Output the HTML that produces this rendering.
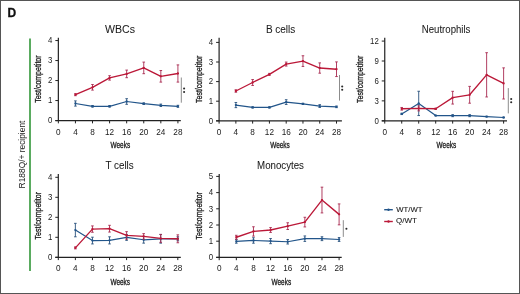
<!DOCTYPE html>
<html><head><meta charset="utf-8"><style>
html,body{margin:0;padding:0;background:#fff;}
#fig{position:relative;width:520px;height:294px;overflow:hidden;box-sizing:border-box;border:1px solid #555;background:#fff;}
svg{position:absolute;left:-1px;top:-1px;will-change:transform;font-family:"Liberation Sans", sans-serif;}
</style></head><body>
<div id="fig"><svg width="520" height="294" viewBox="0 0 520 294">
<text x="120.00" y="32.70" font-size="10" stroke="#1a1a1a" stroke-width="0.05" text-anchor="middle" textLength="30.0" lengthAdjust="spacingAndGlyphs" fill="#1a1a1a">WBCs</text>
<path d="M58.35 37.80V120.55M55.35 120.55H180.80" stroke="#222" stroke-width="1.2" fill="none"/>
<text x="52.35" y="123.25" font-size="8.9" text-anchor="end" textLength="4.36" lengthAdjust="spacingAndGlyphs" fill="#1a1a1a">0</text>
<text x="52.35" y="103.25" font-size="8.9" text-anchor="end" textLength="4.36" lengthAdjust="spacingAndGlyphs" fill="#1a1a1a">1</text>
<text x="52.35" y="83.25" font-size="8.9" text-anchor="end" textLength="4.36" lengthAdjust="spacingAndGlyphs" fill="#1a1a1a">2</text>
<text x="52.35" y="63.25" font-size="8.9" text-anchor="end" textLength="4.36" lengthAdjust="spacingAndGlyphs" fill="#1a1a1a">3</text>
<text x="52.35" y="43.25" font-size="8.9" text-anchor="end" textLength="4.36" lengthAdjust="spacingAndGlyphs" fill="#1a1a1a">4</text>
<text x="58.35" y="134.75" font-size="8.2" text-anchor="middle" fill="#1a1a1a">0</text>
<text x="75.43" y="134.75" font-size="8.2" text-anchor="middle" fill="#1a1a1a">4</text>
<text x="92.51" y="134.75" font-size="8.2" text-anchor="middle" fill="#1a1a1a">8</text>
<text x="109.59" y="134.75" font-size="8.2" text-anchor="middle" fill="#1a1a1a">12</text>
<text x="126.67" y="134.75" font-size="8.2" text-anchor="middle" fill="#1a1a1a">16</text>
<text x="143.75" y="134.75" font-size="8.2" text-anchor="middle" fill="#1a1a1a">20</text>
<text x="160.83" y="134.75" font-size="8.2" text-anchor="middle" fill="#1a1a1a">24</text>
<text x="177.91" y="134.75" font-size="8.2" text-anchor="middle" fill="#1a1a1a">28</text>
<path d="M55.35 120.55H58.35M55.35 100.55H58.35M55.35 80.55H58.35M55.35 60.55H58.35M55.35 40.55H58.35M58.35 120.55v2.8M75.43 120.55v2.8M92.51 120.55v2.8M109.59 120.55v2.8M126.67 120.55v2.8M143.75 120.55v2.8M160.83 120.55v2.8M177.91 120.55v2.8" stroke="#222" stroke-width="1" fill="none"/>
<text x="120.33" y="147.85" font-size="9.8" stroke="#1a1a1a" stroke-width="0.35" text-anchor="middle" textLength="19.6" lengthAdjust="spacingAndGlyphs" fill="#1a1a1a">Weeks</text>
<text transform="translate(40.70 79.17) rotate(-90)" font-size="8.7" stroke="#1a1a1a" stroke-width="0.3" text-anchor="middle" textLength="47.4" lengthAdjust="spacingAndGlyphs" fill="#1a1a1a">Test/competitor</text>
<path d="M75.43 100.90V106.10M74.13 100.90h2.6M74.13 106.10h2.6M92.51 105.50V107.10M91.21 105.50h2.6M91.21 107.10h2.6M109.59 105.50V107.10M108.29 105.50h2.6M108.29 107.10h2.6M126.67 98.70V104.30M125.37 98.70h2.6M125.37 104.30h2.6M143.75 102.90V104.50M142.45 102.90h2.6M142.45 104.50h2.6M160.83 104.10V106.50M159.53 104.10h2.6M159.53 106.50h2.6M177.91 105.30V107.30M176.61 105.30h2.6M176.61 107.30h2.6" stroke="#28507c" stroke-width="0.9" fill="none"/>
<path d="M75.43 103.50 L92.51 106.30 L109.59 106.30 L126.67 101.50 L143.75 103.70 L160.83 105.30 L177.91 106.30" stroke="#22558a" stroke-width="1.2" fill="none" stroke-linejoin="round"/>
<circle cx="75.43" cy="103.50" r="1.15" fill="#22558a"/>
<circle cx="92.51" cy="106.30" r="1.15" fill="#22558a"/>
<circle cx="109.59" cy="106.30" r="1.15" fill="#22558a"/>
<circle cx="126.67" cy="101.50" r="1.15" fill="#22558a"/>
<circle cx="143.75" cy="103.70" r="1.15" fill="#22558a"/>
<circle cx="160.83" cy="105.30" r="1.15" fill="#22558a"/>
<circle cx="177.91" cy="106.30" r="1.15" fill="#22558a"/>
<path d="M75.43 93.70V95.70M74.13 93.70h2.6M74.13 95.70h2.6M92.51 84.50V90.10M91.21 84.50h2.6M91.21 90.10h2.6M109.59 75.70V80.10M108.29 75.70h2.6M108.29 80.10h2.6M126.67 70.10V77.70M125.37 70.10h2.6M125.37 77.70h2.6M143.75 62.10V73.70M142.45 62.10h2.6M142.45 73.70h2.6M160.83 70.50V82.10M159.53 70.50h2.6M159.53 82.10h2.6M177.91 64.90V82.10M176.61 64.90h2.6M176.61 82.10h2.6" stroke="#a82a50" stroke-width="0.9" fill="none"/>
<path d="M75.43 94.70 L92.51 87.30 L109.59 77.90 L126.67 73.90 L143.75 67.90 L160.83 76.30 L177.91 73.50" stroke="#bb1838" stroke-width="1.35" fill="none" stroke-linejoin="round"/>
<circle cx="75.43" cy="94.70" r="1.15" fill="#bb1838"/>
<circle cx="92.51" cy="87.30" r="1.15" fill="#bb1838"/>
<circle cx="109.59" cy="77.90" r="1.15" fill="#bb1838"/>
<circle cx="126.67" cy="73.90" r="1.15" fill="#bb1838"/>
<circle cx="143.75" cy="67.90" r="1.15" fill="#bb1838"/>
<circle cx="160.83" cy="76.30" r="1.15" fill="#bb1838"/>
<circle cx="177.91" cy="73.50" r="1.15" fill="#bb1838"/>
<path d="M181.30 77.50V102.70" stroke="#8c8c8c" stroke-width="1"/>
<circle cx="184.10" cy="88.50" r="1.05" fill="#2a2a2a"/>
<circle cx="184.10" cy="92.00" r="1.05" fill="#2a2a2a"/>
<text x="280.60" y="32.70" font-size="10" stroke="#1a1a1a" stroke-width="0.05" text-anchor="middle" textLength="29.4" lengthAdjust="spacingAndGlyphs" fill="#1a1a1a">B cells</text>
<path d="M219.10 37.80V120.80M216.10 120.80H341.90" stroke="#222" stroke-width="1.2" fill="none"/>
<text x="213.10" y="123.50" font-size="8.9" text-anchor="end" textLength="4.36" lengthAdjust="spacingAndGlyphs" fill="#1a1a1a">0</text>
<text x="213.10" y="103.90" font-size="8.9" text-anchor="end" textLength="4.36" lengthAdjust="spacingAndGlyphs" fill="#1a1a1a">1</text>
<text x="213.10" y="84.30" font-size="8.9" text-anchor="end" textLength="4.36" lengthAdjust="spacingAndGlyphs" fill="#1a1a1a">2</text>
<text x="213.10" y="64.70" font-size="8.9" text-anchor="end" textLength="4.36" lengthAdjust="spacingAndGlyphs" fill="#1a1a1a">3</text>
<text x="213.10" y="45.10" font-size="8.9" text-anchor="end" textLength="4.36" lengthAdjust="spacingAndGlyphs" fill="#1a1a1a">4</text>
<text x="219.10" y="135.00" font-size="8.2" text-anchor="middle" fill="#1a1a1a">0</text>
<text x="235.87" y="135.00" font-size="8.2" text-anchor="middle" fill="#1a1a1a">4</text>
<text x="252.64" y="135.00" font-size="8.2" text-anchor="middle" fill="#1a1a1a">8</text>
<text x="269.42" y="135.00" font-size="8.2" text-anchor="middle" fill="#1a1a1a">12</text>
<text x="286.19" y="135.00" font-size="8.2" text-anchor="middle" fill="#1a1a1a">16</text>
<text x="302.96" y="135.00" font-size="8.2" text-anchor="middle" fill="#1a1a1a">20</text>
<text x="319.73" y="135.00" font-size="8.2" text-anchor="middle" fill="#1a1a1a">24</text>
<text x="336.50" y="135.00" font-size="8.2" text-anchor="middle" fill="#1a1a1a">28</text>
<path d="M216.10 120.80H219.10M216.10 101.20H219.10M216.10 81.60H219.10M216.10 62.00H219.10M216.10 42.40H219.10M219.10 120.80v2.8M235.87 120.80v2.8M252.64 120.80v2.8M269.42 120.80v2.8M286.19 120.80v2.8M302.96 120.80v2.8M319.73 120.80v2.8M336.50 120.80v2.8" stroke="#222" stroke-width="1" fill="none"/>
<text x="280.00" y="148.10" font-size="9.8" stroke="#1a1a1a" stroke-width="0.35" text-anchor="middle" textLength="19.6" lengthAdjust="spacingAndGlyphs" fill="#1a1a1a">Weeks</text>
<text transform="translate(202.40 79.30) rotate(-90)" font-size="8.7" stroke="#1a1a1a" stroke-width="0.3" text-anchor="middle" textLength="47.4" lengthAdjust="spacingAndGlyphs" fill="#1a1a1a">Test/competitor</text>
<path d="M235.87 102.49V107.63M234.57 102.49h2.6M234.57 107.63h2.6M252.64 106.84V108.03M251.34 106.84h2.6M251.34 108.03h2.6M269.42 106.84V108.03M268.12 106.84h2.6M268.12 108.03h2.6M286.19 99.71V104.47M284.89 99.71h2.6M284.89 104.47h2.6M302.96 103.28V104.47M301.66 103.28h2.6M301.66 104.47h2.6M319.73 104.66V107.44M318.43 104.66h2.6M318.43 107.44h2.6M336.50 106.05V107.63M335.20 106.05h2.6M335.20 107.63h2.6" stroke="#28507c" stroke-width="0.9" fill="none"/>
<path d="M235.87 105.06 L252.64 107.44 L269.42 107.44 L286.19 102.09 L302.96 103.87 L319.73 106.05 L336.50 106.84" stroke="#22558a" stroke-width="1.2" fill="none" stroke-linejoin="round"/>
<circle cx="235.87" cy="105.06" r="1.15" fill="#22558a"/>
<circle cx="252.64" cy="107.44" r="1.15" fill="#22558a"/>
<circle cx="269.42" cy="107.44" r="1.15" fill="#22558a"/>
<circle cx="286.19" cy="102.09" r="1.15" fill="#22558a"/>
<circle cx="302.96" cy="103.87" r="1.15" fill="#22558a"/>
<circle cx="319.73" cy="106.05" r="1.15" fill="#22558a"/>
<circle cx="336.50" cy="106.84" r="1.15" fill="#22558a"/>
<path d="M235.87 89.81V92.19M234.57 89.81h2.6M234.57 92.19h2.6M252.64 79.52V85.46M251.34 79.52h2.6M251.34 85.46h2.6M269.42 73.38V75.36M268.12 73.38h2.6M268.12 75.36h2.6M286.19 62.09V66.05M284.89 62.09h2.6M284.89 66.05h2.6M302.96 55.76V66.45M301.66 55.76h2.6M301.66 66.45h2.6M319.73 62.89V73.18M318.43 62.89h2.6M318.43 73.18h2.6M336.50 61.90V76.55M335.20 61.90h2.6M335.20 76.55h2.6" stroke="#a82a50" stroke-width="0.9" fill="none"/>
<path d="M235.87 91.00 L252.64 82.49 L269.42 74.37 L286.19 64.07 L302.96 61.10 L319.73 68.03 L336.50 69.22" stroke="#bb1838" stroke-width="1.35" fill="none" stroke-linejoin="round"/>
<circle cx="235.87" cy="91.00" r="1.15" fill="#bb1838"/>
<circle cx="252.64" cy="82.49" r="1.15" fill="#bb1838"/>
<circle cx="269.42" cy="74.37" r="1.15" fill="#bb1838"/>
<circle cx="286.19" cy="64.07" r="1.15" fill="#bb1838"/>
<circle cx="302.96" cy="61.10" r="1.15" fill="#bb1838"/>
<circle cx="319.73" cy="68.03" r="1.15" fill="#bb1838"/>
<circle cx="336.50" cy="69.22" r="1.15" fill="#bb1838"/>
<path d="M339.50 75.00V100.60" stroke="#8c8c8c" stroke-width="1"/>
<circle cx="342.20" cy="86.50" r="1.05" fill="#2a2a2a"/>
<circle cx="342.20" cy="89.70" r="1.05" fill="#2a2a2a"/>
<text x="446.10" y="32.70" font-size="10" stroke="#1a1a1a" stroke-width="0.05" text-anchor="middle" textLength="48.6" lengthAdjust="spacingAndGlyphs" fill="#1a1a1a">Neutrophils</text>
<path d="M384.75 37.80V120.80M381.75 120.80H507.00" stroke="#222" stroke-width="1.2" fill="none"/>
<text x="378.75" y="123.50" font-size="8.9" text-anchor="end" textLength="4.36" lengthAdjust="spacingAndGlyphs" fill="#1a1a1a">0</text>
<text x="378.75" y="103.57" font-size="8.9" text-anchor="end" textLength="4.36" lengthAdjust="spacingAndGlyphs" fill="#1a1a1a">3</text>
<text x="378.75" y="83.64" font-size="8.9" text-anchor="end" textLength="4.36" lengthAdjust="spacingAndGlyphs" fill="#1a1a1a">6</text>
<text x="378.75" y="63.71" font-size="8.9" text-anchor="end" textLength="4.36" lengthAdjust="spacingAndGlyphs" fill="#1a1a1a">9</text>
<text x="378.75" y="43.78" font-size="8.9" text-anchor="end" textLength="8.71" lengthAdjust="spacingAndGlyphs" fill="#1a1a1a">12</text>
<text x="384.75" y="135.00" font-size="8.2" text-anchor="middle" fill="#1a1a1a">0</text>
<text x="401.73" y="135.00" font-size="8.2" text-anchor="middle" fill="#1a1a1a">4</text>
<text x="418.71" y="135.00" font-size="8.2" text-anchor="middle" fill="#1a1a1a">8</text>
<text x="435.69" y="135.00" font-size="8.2" text-anchor="middle" fill="#1a1a1a">12</text>
<text x="452.67" y="135.00" font-size="8.2" text-anchor="middle" fill="#1a1a1a">16</text>
<text x="469.65" y="135.00" font-size="8.2" text-anchor="middle" fill="#1a1a1a">20</text>
<text x="486.63" y="135.00" font-size="8.2" text-anchor="middle" fill="#1a1a1a">24</text>
<text x="503.61" y="135.00" font-size="8.2" text-anchor="middle" fill="#1a1a1a">28</text>
<path d="M381.75 120.80H384.75M381.75 100.87H384.75M381.75 80.94H384.75M381.75 61.01H384.75M381.75 41.08H384.75M384.75 120.80v2.8M401.73 120.80v2.8M418.71 120.80v2.8M435.69 120.80v2.8M452.67 120.80v2.8M469.65 120.80v2.8M486.63 120.80v2.8M503.61 120.80v2.8" stroke="#222" stroke-width="1" fill="none"/>
<text x="446.38" y="148.10" font-size="9.8" stroke="#1a1a1a" stroke-width="0.35" text-anchor="middle" textLength="19.6" lengthAdjust="spacingAndGlyphs" fill="#1a1a1a">Weeks</text>
<text transform="translate(362.80 79.30) rotate(-90)" font-size="8.7" stroke="#1a1a1a" stroke-width="0.3" text-anchor="middle" textLength="47.4" lengthAdjust="spacingAndGlyphs" fill="#1a1a1a">Test/competitor</text>
<path d="M401.73 113.25V114.56M400.43 113.25h2.6M400.43 114.56h2.6M418.71 91.25V115.55M417.41 91.25h2.6M417.41 115.55h2.6M435.69 115.22V115.88M434.39 115.22h2.6M434.39 115.88h2.6M452.67 114.69V116.66M451.37 114.69h2.6M451.37 116.66h2.6M469.65 114.69V116.66M468.35 114.69h2.6M468.35 116.66h2.6M486.63 116.27V116.93M485.33 116.27h2.6M485.33 116.93h2.6M503.61 117.19V117.84M502.31 117.19h2.6M502.31 117.84h2.6" stroke="#28507c" stroke-width="0.9" fill="none"/>
<path d="M401.73 113.91 L418.71 103.40 L435.69 115.55 L452.67 115.68 L469.65 115.68 L486.63 116.60 L503.61 117.52" stroke="#22558a" stroke-width="1.2" fill="none" stroke-linejoin="round"/>
<circle cx="401.73" cy="113.91" r="1.15" fill="#22558a"/>
<circle cx="418.71" cy="103.40" r="1.15" fill="#22558a"/>
<circle cx="435.69" cy="115.55" r="1.15" fill="#22558a"/>
<circle cx="452.67" cy="115.68" r="1.15" fill="#22558a"/>
<circle cx="469.65" cy="115.68" r="1.15" fill="#22558a"/>
<circle cx="486.63" cy="116.60" r="1.15" fill="#22558a"/>
<circle cx="503.61" cy="117.52" r="1.15" fill="#22558a"/>
<path d="M401.73 107.47V110.10M400.43 107.47h2.6M400.43 110.10h2.6M418.71 105.89V110.88M417.41 105.89h2.6M417.41 110.88h2.6M435.69 108.13V109.44M434.39 108.13h2.6M434.39 109.44h2.6M452.67 91.32V104.06M451.37 91.32h2.6M451.37 104.06h2.6M469.65 86.39V103.20M468.35 86.39h2.6M468.35 103.20h2.6M486.63 52.70V96.96M485.33 52.70h2.6M485.33 96.96h2.6M503.61 67.87V99.00M502.31 67.87h2.6M502.31 99.00h2.6" stroke="#a82a50" stroke-width="0.9" fill="none"/>
<path d="M401.73 108.78 L418.71 108.39 L435.69 108.78 L452.67 97.69 L469.65 94.80 L486.63 74.83 L503.61 83.44" stroke="#bb1838" stroke-width="1.35" fill="none" stroke-linejoin="round"/>
<circle cx="401.73" cy="108.78" r="1.15" fill="#bb1838"/>
<circle cx="418.71" cy="108.39" r="1.15" fill="#bb1838"/>
<circle cx="435.69" cy="108.78" r="1.15" fill="#bb1838"/>
<circle cx="452.67" cy="97.69" r="1.15" fill="#bb1838"/>
<circle cx="469.65" cy="94.80" r="1.15" fill="#bb1838"/>
<circle cx="486.63" cy="74.83" r="1.15" fill="#bb1838"/>
<circle cx="503.61" cy="83.44" r="1.15" fill="#bb1838"/>
<path d="M508.30 88.10V113.40" stroke="#8c8c8c" stroke-width="1"/>
<circle cx="511.20" cy="99.00" r="1.05" fill="#2a2a2a"/>
<circle cx="511.20" cy="102.20" r="1.05" fill="#2a2a2a"/>
<text x="119.60" y="168.80" font-size="10" stroke="#1a1a1a" stroke-width="0.05" text-anchor="middle" textLength="28.2" lengthAdjust="spacingAndGlyphs" fill="#1a1a1a">T cells</text>
<path d="M58.30 174.10V257.30M55.30 257.30H180.80" stroke="#222" stroke-width="1.2" fill="none"/>
<text x="52.30" y="260.00" font-size="8.9" text-anchor="end" textLength="4.36" lengthAdjust="spacingAndGlyphs" fill="#1a1a1a">0</text>
<text x="52.30" y="240.00" font-size="8.9" text-anchor="end" textLength="4.36" lengthAdjust="spacingAndGlyphs" fill="#1a1a1a">1</text>
<text x="52.30" y="220.00" font-size="8.9" text-anchor="end" textLength="4.36" lengthAdjust="spacingAndGlyphs" fill="#1a1a1a">2</text>
<text x="52.30" y="200.00" font-size="8.9" text-anchor="end" textLength="4.36" lengthAdjust="spacingAndGlyphs" fill="#1a1a1a">3</text>
<text x="52.30" y="180.00" font-size="8.9" text-anchor="end" textLength="4.36" lengthAdjust="spacingAndGlyphs" fill="#1a1a1a">4</text>
<text x="58.30" y="270.70" font-size="8.2" text-anchor="middle" fill="#1a1a1a">0</text>
<text x="75.37" y="270.70" font-size="8.2" text-anchor="middle" fill="#1a1a1a">4</text>
<text x="92.44" y="270.70" font-size="8.2" text-anchor="middle" fill="#1a1a1a">8</text>
<text x="109.52" y="270.70" font-size="8.2" text-anchor="middle" fill="#1a1a1a">12</text>
<text x="126.59" y="270.70" font-size="8.2" text-anchor="middle" fill="#1a1a1a">16</text>
<text x="143.66" y="270.70" font-size="8.2" text-anchor="middle" fill="#1a1a1a">20</text>
<text x="160.73" y="270.70" font-size="8.2" text-anchor="middle" fill="#1a1a1a">24</text>
<text x="177.80" y="270.70" font-size="8.2" text-anchor="middle" fill="#1a1a1a">28</text>
<path d="M55.30 257.30H58.30M55.30 237.30H58.30M55.30 217.30H58.30M55.30 197.30H58.30M55.30 177.30H58.30M58.30 257.30v2.8M75.37 257.30v2.8M92.44 257.30v2.8M109.52 257.30v2.8M126.59 257.30v2.8M143.66 257.30v2.8M160.73 257.30v2.8M177.80 257.30v2.8" stroke="#222" stroke-width="1" fill="none"/>
<text x="120.25" y="284.60" font-size="9.8" stroke="#1a1a1a" stroke-width="0.35" text-anchor="middle" textLength="19.6" lengthAdjust="spacingAndGlyphs" fill="#1a1a1a">Weeks</text>
<text transform="translate(41.00 215.70) rotate(-90)" font-size="8.7" stroke="#1a1a1a" stroke-width="0.3" text-anchor="middle" textLength="47.4" lengthAdjust="spacingAndGlyphs" fill="#1a1a1a">Test/competitor</text>
<path d="M75.37 223.34V236.81M74.07 223.34h2.6M74.07 236.81h2.6M92.44 237.20V243.93M91.14 237.20h2.6M91.14 243.93h2.6M109.52 236.81V243.93M108.22 236.81h2.6M108.22 243.93h2.6M126.59 234.43V240.37M125.29 234.43h2.6M125.29 240.37h2.6M143.66 236.41V243.14M142.36 236.41h2.6M142.36 243.14h2.6M160.73 234.43V243.14M159.43 234.43h2.6M159.43 243.14h2.6M177.80 236.81V240.77M176.50 236.81h2.6M176.50 240.77h2.6" stroke="#28507c" stroke-width="0.9" fill="none"/>
<path d="M75.37 230.07 L92.44 240.57 L109.52 240.37 L126.59 237.40 L143.66 239.78 L160.73 238.79 L177.80 238.79" stroke="#22558a" stroke-width="1.2" fill="none" stroke-linejoin="round"/>
<circle cx="75.37" cy="230.07" r="1.15" fill="#22558a"/>
<circle cx="92.44" cy="240.57" r="1.15" fill="#22558a"/>
<circle cx="109.52" cy="240.37" r="1.15" fill="#22558a"/>
<circle cx="126.59" cy="237.40" r="1.15" fill="#22558a"/>
<circle cx="143.66" cy="239.78" r="1.15" fill="#22558a"/>
<circle cx="160.73" cy="238.79" r="1.15" fill="#22558a"/>
<circle cx="177.80" cy="238.79" r="1.15" fill="#22558a"/>
<path d="M75.37 246.90V248.88M74.07 246.90h2.6M74.07 248.88h2.6M92.44 225.92V232.25M91.14 225.92h2.6M91.14 232.25h2.6M109.52 225.32V232.05M108.22 225.32h2.6M108.22 232.05h2.6M126.59 231.66V239.18M125.29 231.66h2.6M125.29 239.18h2.6M143.66 233.64V239.18M142.36 233.64h2.6M142.36 239.18h2.6M160.73 234.43V242.35M159.43 234.43h2.6M159.43 242.35h2.6M177.80 234.83V242.75M176.50 234.83h2.6M176.50 242.75h2.6" stroke="#a82a50" stroke-width="0.9" fill="none"/>
<path d="M75.37 247.89 L92.44 229.08 L109.52 228.69 L126.59 235.42 L143.66 236.41 L160.73 238.39 L177.80 238.79" stroke="#bb1838" stroke-width="1.35" fill="none" stroke-linejoin="round"/>
<circle cx="75.37" cy="247.89" r="1.15" fill="#bb1838"/>
<circle cx="92.44" cy="229.08" r="1.15" fill="#bb1838"/>
<circle cx="109.52" cy="228.69" r="1.15" fill="#bb1838"/>
<circle cx="126.59" cy="235.42" r="1.15" fill="#bb1838"/>
<circle cx="143.66" cy="236.41" r="1.15" fill="#bb1838"/>
<circle cx="160.73" cy="238.39" r="1.15" fill="#bb1838"/>
<circle cx="177.80" cy="238.79" r="1.15" fill="#bb1838"/>
<text x="280.50" y="168.80" font-size="10" stroke="#1a1a1a" stroke-width="0.05" text-anchor="middle" textLength="46.9" lengthAdjust="spacingAndGlyphs" fill="#1a1a1a">Monocytes</text>
<path d="M219.20 174.00V257.40M216.20 257.40H341.70" stroke="#222" stroke-width="1.2" fill="none"/>
<text x="213.20" y="260.10" font-size="8.9" text-anchor="end" textLength="4.36" lengthAdjust="spacingAndGlyphs" fill="#1a1a1a">0</text>
<text x="213.20" y="243.90" font-size="8.9" text-anchor="end" textLength="4.36" lengthAdjust="spacingAndGlyphs" fill="#1a1a1a">1</text>
<text x="213.20" y="227.70" font-size="8.9" text-anchor="end" textLength="4.36" lengthAdjust="spacingAndGlyphs" fill="#1a1a1a">2</text>
<text x="213.20" y="211.50" font-size="8.9" text-anchor="end" textLength="4.36" lengthAdjust="spacingAndGlyphs" fill="#1a1a1a">3</text>
<text x="213.20" y="195.30" font-size="8.9" text-anchor="end" textLength="4.36" lengthAdjust="spacingAndGlyphs" fill="#1a1a1a">4</text>
<text x="213.20" y="179.10" font-size="8.9" text-anchor="end" textLength="4.36" lengthAdjust="spacingAndGlyphs" fill="#1a1a1a">5</text>
<text x="219.20" y="270.80" font-size="8.2" text-anchor="middle" fill="#1a1a1a">0</text>
<text x="236.33" y="270.80" font-size="8.2" text-anchor="middle" fill="#1a1a1a">4</text>
<text x="253.46" y="270.80" font-size="8.2" text-anchor="middle" fill="#1a1a1a">8</text>
<text x="270.58" y="270.80" font-size="8.2" text-anchor="middle" fill="#1a1a1a">12</text>
<text x="287.71" y="270.80" font-size="8.2" text-anchor="middle" fill="#1a1a1a">16</text>
<text x="304.84" y="270.80" font-size="8.2" text-anchor="middle" fill="#1a1a1a">20</text>
<text x="321.97" y="270.80" font-size="8.2" text-anchor="middle" fill="#1a1a1a">24</text>
<text x="339.10" y="270.80" font-size="8.2" text-anchor="middle" fill="#1a1a1a">28</text>
<path d="M216.20 257.40H219.20M216.20 241.20H219.20M216.20 225.00H219.20M216.20 208.80H219.20M216.20 192.60H219.20M216.20 176.40H219.20M219.20 257.40v2.8M236.33 257.40v2.8M253.46 257.40v2.8M270.58 257.40v2.8M287.71 257.40v2.8M304.84 257.40v2.8M321.97 257.40v2.8M339.10 257.40v2.8" stroke="#222" stroke-width="1" fill="none"/>
<text x="281.35" y="284.70" font-size="9.8" stroke="#1a1a1a" stroke-width="0.35" text-anchor="middle" textLength="19.6" lengthAdjust="spacingAndGlyphs" fill="#1a1a1a">Weeks</text>
<text transform="translate(202.30 215.70) rotate(-90)" font-size="8.7" stroke="#1a1a1a" stroke-width="0.3" text-anchor="middle" textLength="47.4" lengthAdjust="spacingAndGlyphs" fill="#1a1a1a">Test/competitor</text>
<path d="M236.33 239.65V243.19M235.03 239.65h2.6M235.03 243.19h2.6M253.46 237.72V243.19M252.16 237.72h2.6M252.16 243.19h2.6M270.58 238.52V243.68M269.28 238.52h2.6M269.28 243.68h2.6M287.71 239.49V244.00M286.41 239.49h2.6M286.41 244.00h2.6M304.84 235.95V241.42M303.54 235.95h2.6M303.54 241.42h2.6M321.97 236.75V240.62M320.67 236.75h2.6M320.67 240.62h2.6M339.10 237.56V241.42M337.80 237.56h2.6M337.80 241.42h2.6" stroke="#28507c" stroke-width="0.9" fill="none"/>
<path d="M236.33 241.42 L253.46 240.46 L270.58 241.10 L287.71 241.74 L304.84 238.69 L321.97 238.69 L339.10 239.49" stroke="#22558a" stroke-width="1.2" fill="none" stroke-linejoin="round"/>
<circle cx="236.33" cy="241.42" r="1.15" fill="#22558a"/>
<circle cx="253.46" cy="240.46" r="1.15" fill="#22558a"/>
<circle cx="270.58" cy="241.10" r="1.15" fill="#22558a"/>
<circle cx="287.71" cy="241.74" r="1.15" fill="#22558a"/>
<circle cx="304.84" cy="238.69" r="1.15" fill="#22558a"/>
<circle cx="321.97" cy="238.69" r="1.15" fill="#22558a"/>
<circle cx="339.10" cy="239.49" r="1.15" fill="#22558a"/>
<path d="M236.33 235.30V239.17M235.03 235.30h2.6M235.03 239.17h2.6M253.46 226.77V236.11M252.16 226.77h2.6M252.16 236.11h2.6M270.58 227.58V232.41M269.28 227.58h2.6M269.28 232.41h2.6M287.71 222.75V229.51M286.41 222.75h2.6M286.41 229.51h2.6M304.84 217.27V226.93M303.54 217.27h2.6M303.54 226.93h2.6M321.97 187.16V212.92M320.67 187.16h2.6M320.67 212.92h2.6M339.10 203.91V224.84M337.80 203.91h2.6M337.80 224.84h2.6" stroke="#a82a50" stroke-width="0.9" fill="none"/>
<path d="M236.33 237.24 L253.46 231.44 L270.58 229.99 L287.71 226.13 L304.84 222.10 L321.97 200.04 L339.10 214.37" stroke="#bb1838" stroke-width="1.35" fill="none" stroke-linejoin="round"/>
<circle cx="236.33" cy="237.24" r="1.15" fill="#bb1838"/>
<circle cx="253.46" cy="231.44" r="1.15" fill="#bb1838"/>
<circle cx="270.58" cy="229.99" r="1.15" fill="#bb1838"/>
<circle cx="287.71" cy="226.13" r="1.15" fill="#bb1838"/>
<circle cx="304.84" cy="222.10" r="1.15" fill="#bb1838"/>
<circle cx="321.97" cy="200.04" r="1.15" fill="#bb1838"/>
<circle cx="339.10" cy="214.37" r="1.15" fill="#bb1838"/>
<path d="M343.30 220.20V236.90" stroke="#8c8c8c" stroke-width="1"/>
<circle cx="346.40" cy="228.80" r="1.05" fill="#2a2a2a"/>
<path d="M384.2 209.7H392.8" stroke="#22558a" stroke-width="1.4"/><circle cx="388.5" cy="209.7" r="1.2" fill="#22558a"/>
<path d="M384.2 221.5H392.8" stroke="#bb1838" stroke-width="1.4"/><circle cx="388.5" cy="221.5" r="1.2" fill="#bb1838"/>
<text x="396.3" y="212.2" font-size="7.6" textLength="26.2" lengthAdjust="spacingAndGlyphs" fill="#1a1a1a" stroke="#1a1a1a" stroke-width="0.1">WT/WT</text>
<text x="396.1" y="223.3" font-size="7.6" textLength="20.8" lengthAdjust="spacingAndGlyphs" fill="#1a1a1a" stroke="#1a1a1a" stroke-width="0.1">Q/WT</text>
<path d="M30 38.5V271" stroke="#5aab60" stroke-width="2"/>
<text transform="translate(24.6 154.5) rotate(-90)" font-size="8.4" text-anchor="middle" fill="#1a1a1a">R188Q/+ recipient</text>
<text x="7.5" y="17.4" font-size="12" font-weight="bold" fill="#111" stroke="#111" stroke-width="0.3">D</text>
</svg></div>
</body></html>
